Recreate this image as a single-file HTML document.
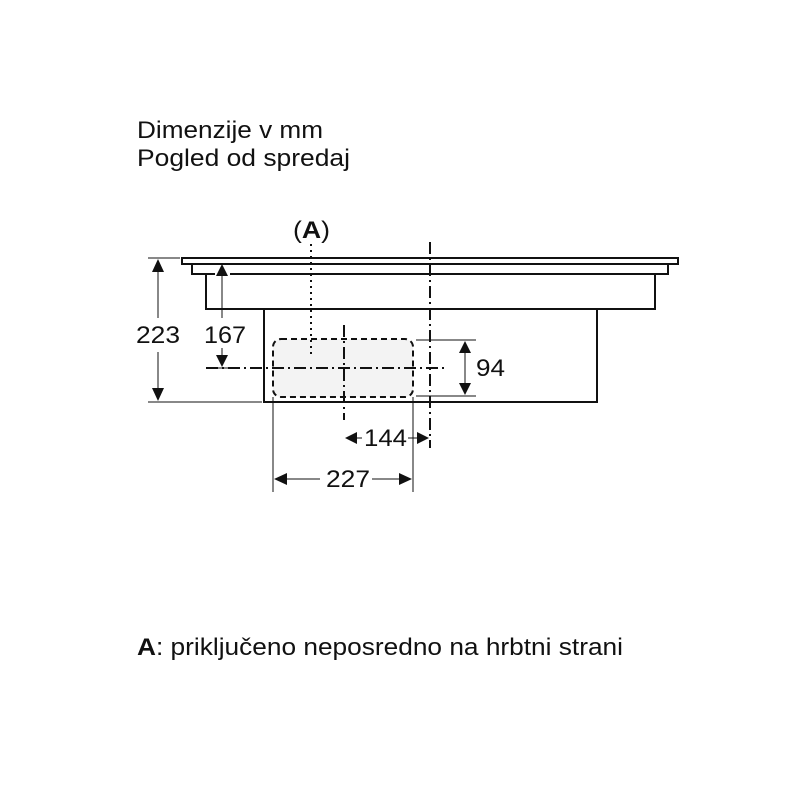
<!DOCTYPE html>
<html><head><meta charset="utf-8"><style>
body{margin:0;background:#fff}
svg{display:block}
text{font-family:"Liberation Sans",sans-serif;fill:#111}
</style></head><body>
<svg width="800" height="800" viewBox="0 0 800 800" xmlns="http://www.w3.org/2000/svg">
<text x="137" y="138" font-size="24" textLength="186" lengthAdjust="spacingAndGlyphs">Dimenzije v mm</text>
<text x="137" y="166" font-size="24" textLength="213" lengthAdjust="spacingAndGlyphs">Pogled od spredaj</text>
<text x="293" y="238" font-size="24" textLength="37" lengthAdjust="spacingAndGlyphs">(<tspan font-weight="bold">A</tspan>)</text>

<g fill="none" stroke="#111" stroke-width="2">
<rect x="182" y="258" width="496" height="6"/>
<path d="M192 264 V274 H215 M230 274 H668 V264"/>
<path d="M206 274 V309 H655 V274"/>
<path d="M264 309 V402 H597 V309"/>
</g>
<rect x="273" y="339" width="140" height="58" rx="8" fill="#f3f3f3" stroke="#111" stroke-width="2" stroke-dasharray="6,4"/>

<g stroke="#111" fill="none">
<line x1="311" y1="244" x2="311" y2="356" stroke-width="2" stroke-dasharray="2,4"/>
<line x1="430" y1="242" x2="430" y2="448" stroke-width="2" stroke-dasharray="12,4,2,4"/>
<line x1="344" y1="325" x2="344" y2="420" stroke-width="2" stroke-dasharray="12,4,2,4"/>
<line x1="206" y1="368" x2="445" y2="368" stroke-width="2" stroke-dasharray="12,4,2,4"/>
<line x1="206" y1="368" x2="240" y2="368" stroke-width="1"/>
<line x1="148" y1="258" x2="180" y2="258" stroke-width="1"/>
<line x1="148" y1="402" x2="262" y2="402" stroke-width="1"/>
<line x1="158" y1="270" x2="158" y2="318" stroke-width="1"/>
<line x1="158" y1="352" x2="158" y2="392" stroke-width="1"/>
<line x1="222" y1="272" x2="222" y2="318" stroke-width="1"/>
<line x1="222" y1="348" x2="222" y2="358" stroke-width="1"/>
<line x1="416" y1="340" x2="476" y2="340" stroke-width="1"/>
<line x1="416" y1="396" x2="476" y2="396" stroke-width="1"/>
<line x1="465" y1="350" x2="465" y2="386" stroke-width="1"/>
<line x1="273" y1="397" x2="273" y2="492" stroke-width="1"/>
<line x1="413" y1="397" x2="413" y2="492" stroke-width="1"/>
<line x1="354" y1="438" x2="362" y2="438" stroke-width="1"/>
<line x1="408" y1="438" x2="420" y2="438" stroke-width="1"/>
<line x1="283" y1="479" x2="320" y2="479" stroke-width="1"/>
<line x1="372" y1="479" x2="403" y2="479" stroke-width="1"/>
</g>
<g fill="#111">
<path d="M158 259 L152 272 L164 272Z"/>
<path d="M158 401 L152 388 L164 388Z"/>
<path d="M222 264 L216 276 L228 276Z"/>
<path d="M222 367 L216 355 L228 355Z"/>
<path d="M465 341 L459 353 L471 353Z"/>
<path d="M465 395 L459 383 L471 383Z"/>
<path d="M345 438 L357 432 L357 444Z"/>
<path d="M429 438 L417 432 L417 444Z"/>
<path d="M274 479 L287 473 L287 485Z"/>
<path d="M412 479 L399 473 L399 485Z"/>
</g>
<text x="136" y="343" font-size="24" textLength="44" lengthAdjust="spacingAndGlyphs">223</text>
<text x="204" y="343" font-size="24" textLength="42" lengthAdjust="spacingAndGlyphs">167</text>
<text x="476" y="376" font-size="24" textLength="29" lengthAdjust="spacingAndGlyphs">94</text>
<text x="364" y="446" font-size="24" textLength="43" lengthAdjust="spacingAndGlyphs">144</text>
<text x="326" y="487" font-size="24" textLength="44" lengthAdjust="spacingAndGlyphs">227</text>
<text x="137" y="655" font-size="24" textLength="486" lengthAdjust="spacingAndGlyphs"><tspan font-weight="bold">A</tspan>: priključeno neposredno na hrbtni strani</text>
</svg>
</body></html>
